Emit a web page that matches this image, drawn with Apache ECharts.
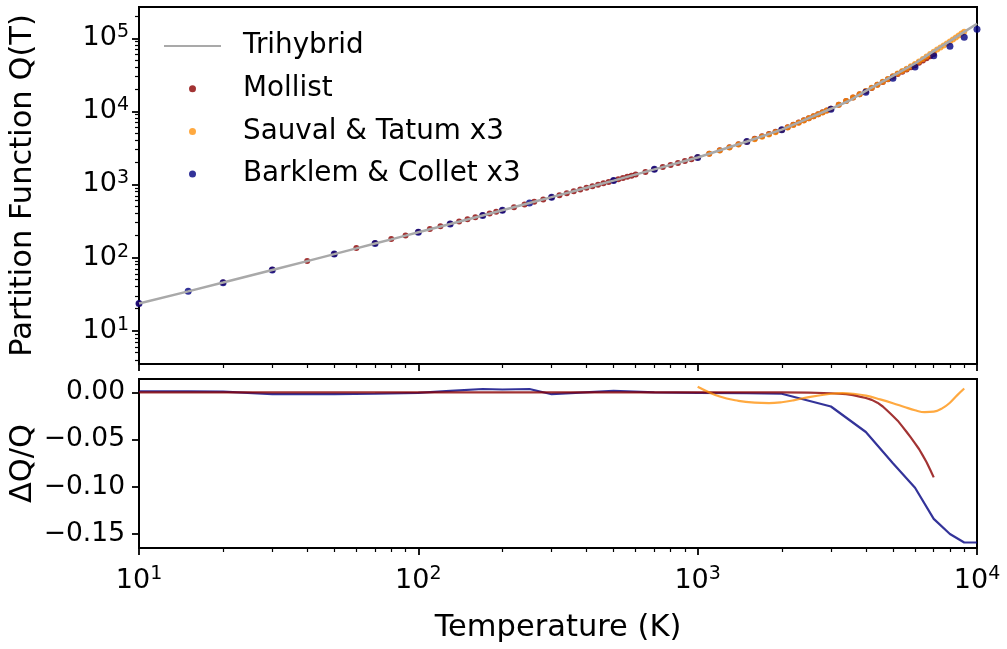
<!DOCTYPE html>
<html>
<head>
<meta charset="utf-8">
<script src="https://cdn.jsdelivr.net/npm/echarts@6/dist/echarts.min.js"></script>
<style>
html, body { margin: 0; padding: 0; background: #fff; }
#pfChart { width: 1007px; height: 649px; }
</style>
</head>
<body>
<div id="pfChart"></div>
<script>
// Trihybrid partition function (grey line)
const tempTri = [10, 15, 20, 30, 40, 50, 60, 70, 80, 90, 100, 130, 170, 200, 250, 300, 400, 500, 700, 1000, 1500, 2000, 2500, 3000, 3500, 4000, 4500, 5000, 5500, 6000, 7000, 8000, 9000, 10000]
const qTri = [23.5, 34.5, 45.5, 67.5, 89.5, 111.5, 133.5, 155.5, 177.5, 199.5, 222, 288, 377, 444, 557, 672, 900, 1130, 1610, 2340, 3870, 5620, 8075, 10860, 14093, 19040, 24490, 30680, 37570, 45200, 66780, 91530, 122500, 157800]

// Mollist
const tempMol = [10, 20, 30, 40, 50, 60, 70, 80, 90, 100, 110, 120, 130, 140, 150, 160, 170, 180, 190, 200,
    220, 240, 260, 280, 300, 320, 340, 360, 380, 400, 420, 440, 460, 480, 500, 520, 540, 560, 580, 600,
    650, 700, 750, 800, 850, 900, 950, 1000,
    1100, 1200, 1300, 1400, 1500, 1600, 1700, 1800, 1900, 2000, 2100, 2200, 2300, 2400, 2500, 2600, 2700, 2800, 2900, 3000,
    3200, 3400, 3600, 3800, 4000, 4200, 4400, 4600, 4800, 5000, 5200, 5400, 5600, 5800, 6000, 6200, 6400, 6600, 6800, 7000]
const qMol = [23.5, 45.7, 67.9, 90.1, 112, 135, 157, 179, 201, 223, 246, 268, 290, 312, 334, 357, 379, 401, 423, 445,
    490, 534, 579, 623, 670, 715, 761, 808, 854, 900, 946, 992, 1038, 1084, 1130, 1177, 1224, 1271, 1319, 1367,
    1485, 1610, 1730, 1852, 1975, 2099, 2220, 2341,
    2634, 2935, 3240, 3553, 3870, 4207, 4552, 4903, 5258, 5620, 6083, 6561, 7053, 7558, 8075, 8605, 9151, 9708, 10278, 10850,
    12300, 13833, 15440, 17120, 18890, 20910, 23055, 25265, 27557, 29913, 32356, 34839, 37393, 40030, 42759, 46174, 49650, 53273, 56953, 60770]
const tempMolRes = [10, 100, 1000, 2000, 2500, 3000, 3200, 3400, 3600, 3800, 4000, 4200, 4400, 4600, 4800, 5000, 5200, 5400, 5600, 5800, 6000, 6200, 6400, 6600, 6800, 7000]
const molRes = [0, 0, 0, 0, -0.0003, -0.001, -0.0015, -0.002, -0.003, -0.0045, -0.006, -0.008, -0.011, -0.015, -0.020, -0.025, -0.030, -0.036, -0.042, -0.048, -0.054, -0.060, -0.067, -0.074, -0.082, -0.090]

// Sauval & Tatum x3
const tempSau = [1000, 1100, 1200, 1300, 1400, 1500, 1600, 1700, 1800, 1900, 2000, 2100, 2200, 2300, 2400, 2500, 2600, 2700, 2800, 2900, 3000,
    3200, 3400, 3600, 3800, 4000, 4200, 4400, 4600, 4800, 5000, 5200, 5400, 5600, 5800, 6000, 6200, 6400, 6600, 6800, 7000,
    7200, 7400, 7600, 7800, 8000, 8200, 8400, 8600, 8800, 9000]
const qSau = [2354, 2635, 2922, 3217, 3521, 3831, 4161, 4501, 4847, 5200, 5561, 6025, 6505, 7002, 7513, 8035, 8571, 9124, 9686, 10260, 10844,
    12304, 13857, 15483, 17187, 18973, 21029, 23196, 25462, 27838, 30327, 32923, 35616, 38407, 41312, 44341, 48148, 52124, 56322, 60737, 65411,
    70024, 74760, 79752, 84983, 90523, 96512, 102805, 109350, 116112, 122990]
const tempSauRes = [1000, 1200, 1400, 1600, 1800, 2000, 2200, 2500, 3000, 3300, 3600, 4000, 4500, 5000, 5500, 6000, 6500, 7000, 7500, 8000, 8500, 9000]
const sauRes = [0.006, -0.0045, -0.009, -0.011, -0.0115, -0.0105, -0.0085, -0.005, -0.0015, -0.0008, -0.0015, -0.0035, -0.0075, -0.0115, -0.0155, -0.019, -0.021, -0.0205, -0.017, -0.011, -0.003, 0.004]

// Barklem & Collet x3
const tempBark = [10, 15, 20, 30, 50, 70, 100, 130, 170, 200, 250, 300, 500, 700, 1000, 1500, 2000, 3000, 4000, 5000, 6000, 7000, 8000, 9000, 10000]
const qBark = [23.6, 34.6, 45.4, 67.6, 111.6, 155.4, 222, 288, 377, 444, 558, 671, 1131, 1612, 2338, 3866, 5610, 10700, 18240, 28380, 40620, 57830, 77800, 103000, 132700]
const barkRes = [0.001, 0.001, 0.0008, -0.002, -0.002, -0.0015, -0.0005, 0.0015, 0.0035, 0.003, 0.0035, -0.002, 0.0015, 0, -0.0005, -0.001, -0.0015, -0.015, -0.042, -0.075, -0.101, -0.134, -0.150, -0.159, -0.159]

// tick positions
const majorX = [10, 100, 1000, 10000]
const minorX = [20, 30, 40, 50, 60, 70, 80, 90, 200, 300, 400, 500, 600, 700, 800, 900, 2000, 3000, 4000, 5000, 6000, 7000, 8000, 9000]
const majorY = [10, 100, 1000, 10000, 100000]
const minorY = [4, 5, 6, 7, 8, 9, 20, 30, 40, 50, 60, 70, 80, 90, 200, 300, 400, 500, 600, 700, 800, 900,
    2000, 3000, 4000, 5000, 6000, 7000, 8000, 9000, 20000, 30000, 40000, 50000, 60000, 70000, 80000, 90000, 200000]
const resTicks = [-0.15, -0.1, -0.05, 0]

const font = 'DejaVu Sans'
const zip = (xs, ys) => xs.map((x, i) => [x, ys[i]])
const powLabel = v => '{b|10}{s|' + Math.round(Math.log10(v)) + '}'
const powRich = {
    b: { fontSize: 27, fontFamily: font, color: '#000' },
    s: { fontSize: 19, fontFamily: font, color: '#000', padding: [0, 0, 12, 0] }
}
const majorTick = vals => ({ show: true, inside: false, customValues: vals, length: 7, lineStyle: { color: '#000', width: 1.8 } })
const minorTick = vals => ({ show: true, inside: false, customValues: vals, length: 4, lineStyle: { color: '#000', width: 1.2 } })
const noLabel = { show: false }
const noLine = { show: false, onZero: false }

const topGrid = { left: 139, top: 7, width: 838, height: 357, containLabel: false, outerBoundsMode: 'none' }
const botGrid = { left: 139, top: 379, width: 838, height: 169, containLabel: false, outerBoundsMode: 'none' }

let chart = echarts.init(document.getElementById('pfChart'))
let option = {
    animation: false,
    backgroundColor: '#fff',
    grid: [
        Object.assign({ show: true, borderColor: '#000', borderWidth: 2, backgroundColor: 'transparent' }, topGrid),
        Object.assign({ show: true, borderColor: '#000', borderWidth: 2, backgroundColor: 'transparent' }, botGrid),
        Object.assign({ show: false }, topGrid),
        Object.assign({ show: false }, botGrid)
    ],
    legend: {
        data: ['Trihybrid', 'Mollist', 'Sauval & Tatum x3', 'Barklem & Collet x3'],
        orient: 'vertical',
        left: 163,
        top: 31,
        padding: 0,
        itemWidth: 57,
        itemHeight: 7,
        itemGap: 12.7,
        textStyle: { fontSize: 27.8, fontFamily: font, color: '#000', lineHeight: 30, padding: [0, 0, 0, 17] }
    },
    xAxis: [
        {
            gridIndex: 0, type: 'log', logBase: 10, min: 10, max: 10000, position: 'bottom',
            axisLine: noLine, splitLine: { show: false },
            axisTick: majorTick(majorX), axisLabel: noLabel
        },
        {
            gridIndex: 1, type: 'log', logBase: 10, min: 10, max: 10000, position: 'bottom',
            axisLine: noLine, splitLine: { show: false },
            axisTick: majorTick(majorX),
            axisLabel: { customValues: majorX, formatter: powLabel, rich: powRich, margin: 17 },
            name: 'Temperature (K)', nameLocation: 'middle', nameGap: 65, nameMoveOverlap: false,
            nameTextStyle: { fontSize: 30.5, fontFamily: font, color: '#000' }
        },
        {
            gridIndex: 2, type: 'log', logBase: 10, min: 10, max: 10000, position: 'bottom',
            axisLine: noLine, splitLine: { show: false },
            axisTick: minorTick(minorX), axisLabel: noLabel
        },
        {
            gridIndex: 3, type: 'log', logBase: 10, min: 10, max: 10000, position: 'bottom',
            axisLine: noLine, splitLine: { show: false },
            axisTick: minorTick(minorX), axisLabel: noLabel
        }
    ],
    yAxis: [
        {
            gridIndex: 0, type: 'log', logBase: 10, min: 3.5, max: 268000,
            axisLine: noLine, splitLine: { show: false },
            axisTick: majorTick(majorY),
            axisLabel: { customValues: majorY, formatter: powLabel, rich: powRich, margin: 10 },
            name: 'Partition Function Q(T)', nameLocation: 'middle', nameRotate: 90, nameGap: 100, nameMoveOverlap: false,
            nameTextStyle: { fontSize: 30.5, fontFamily: font, color: '#000' }
        },
        {
            gridIndex: 1, type: 'value', min: -0.1648, max: 0.0141,
            axisLine: noLine, splitLine: { show: false },
            axisTick: majorTick(resTicks),
            axisLabel: {
                customValues: resTicks, margin: 14, fontSize: 26.5, fontFamily: font, color: '#000',
                formatter: v => (v < -1e-9 ? '\u2212' : '') + Math.abs(v).toFixed(2)
            },
            name: 'ΔQ/Q', nameLocation: 'middle', nameRotate: 90, nameGap: 100, nameMoveOverlap: false,
            nameTextStyle: { fontSize: 30.5, fontFamily: font, color: '#000' }
        },
        {
            gridIndex: 2, type: 'log', logBase: 10, min: 3.5, max: 268000,
            axisLine: noLine, splitLine: { show: false },
            axisTick: minorTick(minorY), axisLabel: noLabel
        },
        {
            gridIndex: 3, type: 'value', min: -0.1648, max: 0.0141, show: false
        }
    ],
    series: [
        {
            name: 'Mollist', type: 'scatter', xAxisIndex: 0, yAxisIndex: 0,
            data: zip(tempMol, qMol), symbolSize: 6,
            itemStyle: { color: '#8b0000', opacity: 0.8 }
        },
        {
            name: 'Sauval & Tatum x3', type: 'scatter', xAxisIndex: 0, yAxisIndex: 0,
            data: zip(tempSau, qSau), symbolSize: 6,
            itemStyle: { color: '#ff8c00', opacity: 0.75 }
        },
        {
            name: 'Barklem & Collet x3', type: 'scatter', xAxisIndex: 0, yAxisIndex: 0,
            data: zip(tempBark, qBark), symbolSize: 7,
            itemStyle: { color: '#000080', opacity: 0.8 }
        },
        {
            name: 'Trihybrid', type: 'line', xAxisIndex: 0, yAxisIndex: 0, z: 3,
            data: zip(tempTri, qTri), symbol: 'none', showSymbol: false,
            lineStyle: { color: '#a9a9a9', width: 2.5 }, itemStyle: { color: '#a9a9a9', opacity: 0 }
        },
        {
            name: 'Barklem residual', type: 'line', xAxisIndex: 1, yAxisIndex: 1,
            data: zip(tempBark, barkRes), symbol: 'none', showSymbol: false,
            lineStyle: { color: '#000080', width: 2.2, opacity: 0.8 }
        },
        {
            name: 'Mollist residual', type: 'line', xAxisIndex: 1, yAxisIndex: 1,
            data: zip(tempMolRes, molRes), symbol: 'none', showSymbol: false,
            lineStyle: { color: '#8b0000', width: 2.2, opacity: 0.8 }
        },
        {
            name: 'Sauval residual', type: 'line', xAxisIndex: 1, yAxisIndex: 1,
            data: zip(tempSauRes, sauRes), symbol: 'none', showSymbol: false,
            smooth: 0.4,
            lineStyle: { color: '#ff8c00', width: 2.2, opacity: 0.75 }
        }
    ]
}
chart.setOption(option)
</script>
</body>
</html>
